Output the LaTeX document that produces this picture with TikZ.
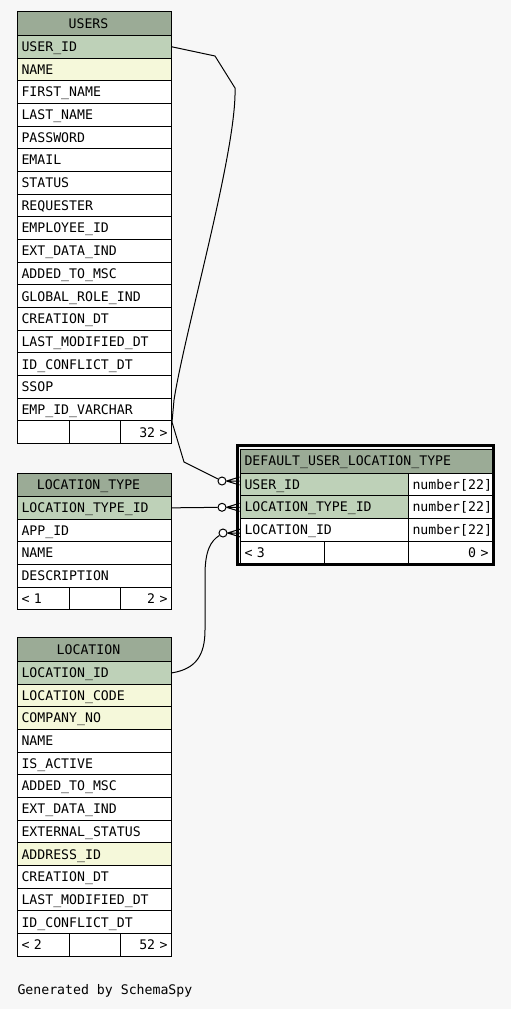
\documentclass[tikz,border=0pt]{standalone}
\usepackage{fontspec}
\setmonofont{DejaVu Sans Mono}
\definecolor{pagebg}{HTML}{F7F7F7}
\definecolor{headbg}{HTML}{9BAB96}
\definecolor{keybg}{HTML}{BED1B8}
\definecolor{idxbg}{HTML}{F5F8DA}

\begin{document}
\begin{tikzpicture}[x=1pt, y=-1pt, line width=1pt,
  cell/.style ={draw=black, anchor=north west, inner xsep=4pt, inner ysep=0pt,
                minimum height=22.67pt, text height=9.6pt, text depth=0pt,
                align=left, font=\fontsize{13.2}{15}\selectfont\ttfamily},
  thead/.style={cell, fill=headbg, minimum height=24pt, align=center},
  foot/.style ={cell, fill=white},
  rel/.style  ={draw=black, line width=1pt},
  odot/.style ={circle, draw=black, fill=white, inner sep=0pt, minimum size=8pt},
  note/.style ={anchor=base west, inner sep=0pt, font=\fontsize{13.2}{15}\selectfont\ttfamily}]

  \fill[pagebg] (0,0) rectangle (511,1009);
  \useasboundingbox (0,0) rectangle (511,1009);

  % USERS
  \node[thead, text width=146pt] (users) at (17,11) {USERS\kern12pt};
  \foreach \nm/\c [count=\i from 0] in {USER\_ID/keybg, NAME/idxbg, FIRST\_NAME/white,
      LAST\_NAME/white, PASSWORD/white, EMAIL/white, STATUS/white, REQUESTER/white,
      EMPLOYEE\_ID/white, EXT\_DATA\_IND/white, ADDED\_TO\_MSC/white,
      GLOBAL\_ROLE\_IND/white, CREATION\_DT/white, LAST\_MODIFIED\_DT/white,
      ID\_CONFLICT\_DT/white, SSOP/white, EMP\_ID\_VARCHAR/white}
    \node[cell, fill=\c, text width=146pt] (users-\i) at (17,35+22.67*\i) {\nm};
  \node[foot, text width=44pt] (users-f1) at (17,420.4) {};
  \node[foot, text width=43pt] (users-f2) at (69,420.4) {};
  \node[foot, text width=43pt, align=right] (users-f3) at (120,420.4) {32 >};

  % LOCATION_TYPE
  \node[thead, text width=146pt] (ltype) at (17,472.5) {LOCATION\_TYPE\kern12pt};
  \foreach \nm/\c [count=\i from 0] in {LOCATION\_TYPE\_ID/keybg, APP\_ID/white,
      NAME/white, DESCRIPTION/white}
    \node[cell, fill=\c, text width=146pt] (ltype-\i) at (17,496+22.67*\i) {\nm};
  \node[foot, text width=44pt] (ltype-f1) at (17,586.7) {< 1};
  \node[foot, text width=43pt] (ltype-f2) at (69,586.7) {};
  \node[foot, text width=43pt, align=right] (ltype-f3) at (120,586.7) {2 >};

  % LOCATION
  \node[thead, text width=146pt] (loc) at (17,637) {LOCATION\kern12pt};
  \foreach \nm/\c [count=\i from 0] in {LOCATION\_ID/keybg, LOCATION\_CODE/idxbg,
      COMPANY\_NO/idxbg, NAME/white, IS\_ACTIVE/white, ADDED\_TO\_MSC/white,
      EXT\_DATA\_IND/white, EXTERNAL\_STATUS/white, ADDRESS\_ID/idxbg,
      CREATION\_DT/white, LAST\_MODIFIED\_DT/white, ID\_CONFLICT\_DT/white}
    \node[cell, fill=\c, text width=146pt] (loc-\i) at (17,661+22.67*\i) {\nm};
  \node[foot, text width=44pt] (loc-f1) at (17,933) {< 2};
  \node[foot, text width=43pt] (loc-f2) at (69,933) {};
  \node[foot, text width=43pt, align=right] (loc-f3) at (120,933) {52 >};

  % DEFAULT_USER_LOCATION_TYPE (focus table, double frame)
  \node[thead, text width=244pt, align=left] (dult) at (240,448.5) {DEFAULT\_USER\_LOCATION\_TYPE};
  \foreach \nm/\c [count=\i from 0] in {USER\_ID/keybg, LOCATION\_TYPE\_ID/keybg,
      LOCATION\_ID/white}{
    \node[cell, fill=\c, text width=160pt] (dult-\i) at (240,472.5+22.67*\i) {\nm};
    \node[cell, fill=white, text width=76pt] (dult-t\i) at (408,472.5+22.67*\i) {number[22]};
  }
  \node[foot, text width=76pt] (dult-f1) at (240,540.5) {< 3};
  \node[foot, text width=76pt] (dult-f2) at (324,540.5) {};
  \node[foot, text width=76pt, align=right] (dult-f3) at (408,540.5) {0 >};
  \draw[line width=3pt] (237,445.5) rectangle (493.5,564);

  % relations: zero-or-many ends
  \node[odot] (c-uid)  at (222,481) {};
  \node[odot] (c-ltid) at (222,507.3) {};
  \node[odot] (c-lid)  at (223,533) {};
  \foreach \cn in {c-uid, c-ltid, c-lid}
    \draw (\cn.east) -- ++(13,-4) (\cn.east) -- ++(13,0) (\cn.east) -- ++(13,4);

  \draw[rel] (users-0.east) -- (215,56) -- (235,88)
    .. controls (237,150) and (185,330) .. (174,400) -- (172,422) -- (184,462) -- (c-uid);
  \draw[rel] (ltype-0.east) -- (c-ltid);
  \draw[rel] (loc-0.east) .. controls (196,669) and (205,655) .. (205,630) -- (205,575)
    .. controls (205,550) and (211,541) .. (c-lid);

  \node[note] (gen) at (17,994) {Generated by SchemaSpy};
\end{tikzpicture}
\end{document}
